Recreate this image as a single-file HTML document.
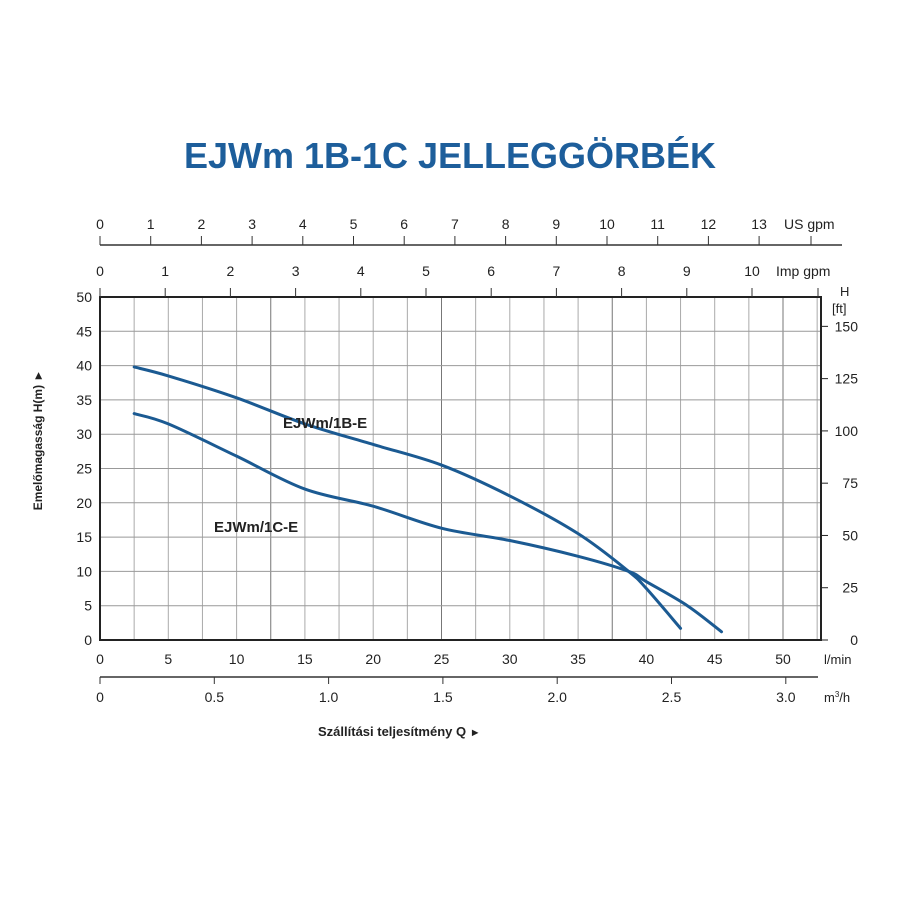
<!DOCTYPE html>
<html><head><meta charset="utf-8"><style>
body{margin:0;background:#fff;}
svg text{font-family:"Liberation Sans",Arial,sans-serif;fill:#222;}
</style></head><body>
<svg id="c" width="900" height="900" viewBox="0 0 900 900" xmlns="http://www.w3.org/2000/svg">
<text x="450" y="168" text-anchor="middle" font-size="36" font-weight="bold" style="fill:#1d5e9b">EJWm 1B-1C JELLEGGÖRBÉK</text>
<g id="g"></g>
<text transform="translate(42,440) rotate(-90)" text-anchor="middle" font-size="12" font-weight="bold">Emelőmagasság H(m)  ►</text>
<text x="318" y="736" font-size="13" font-weight="bold">Szállítási teljesítmény Q  <tspan font-size="11">  ►</tspan></text>
<text x="283" y="428" font-size="15" font-weight="bold">EJWm/1B-E</text>
<text x="214" y="532" font-size="15" font-weight="bold">EJWm/1C-E</text>
</svg>
<script>
const yTicks=[0,5,10,15,20,25,30,35,40,45,50];
const xTicks=[0,5,10,15,20,25,30,35,40,45,50];
const ftTicks=[0,25,50,75,100,125,150];
const m3Ticks=[0,0.5,1.0,1.5,2.0,2.5,3.0];
const usTicks=[0,1,2,3,4,5,6,7,8,9,10,11,12,13];
const impTicks=[0,1,2,3,4,5,6,7,8,9,10];
const q1B=[2.5,5,10,15,20,25,30,35,38.7,40,42.5];
const h1B=[39.8,38.5,35.3,31.5,28.5,25.5,21,15.5,10,7.5,1.7];
const q1C=[2.5,5,10,15,20,25,30,35,38.7,40,43,45.5];
const h1C=[33,31.5,26.8,22,19.5,16.3,14.5,12.2,10,8.5,5,1.2];
const X=q=>100+q*13.66, Y=h=>640-h*6.86;
const g=document.getElementById('g');
function el(t,a,p){const e=document.createElementNS('http://www.w3.org/2000/svg',t);for(const k in a)e.setAttribute(k,a[k]);(p||g).appendChild(e);return e;}
for(let q=2.5;q<52.6;q+=2.5){const l=el('line',{x1:X(q),x2:X(q),y1:297,y2:640,stroke:(q%12.5<0.1)?'#777':'#aaa','stroke-width':1});

}
yTicks.forEach(h=>{const l=el('line',{x1:100,x2:821,y1:Y(h),y2:Y(h),stroke:'#999','stroke-width':1});


const t=el('text',{x:92,y:Y(h)+5,'text-anchor':'end','font-size':14});t.textContent=h;

});
const box=el('rect',{x:100,y:297,width:721,height:343,fill:'none',stroke:'#222','stroke-width':2});


xTicks.forEach(q=>{const t=el('text',{x:X(q),y:664,'text-anchor':'middle','font-size':14});t.textContent=q;

});
let u=el('text',{x:824,y:664,'font-size':13});u.textContent='l/min';


ftTicks.forEach(f=>{const y=Y(f*0.3048);el('line',{x1:821,x2:828,y1:y,y2:y,stroke:'#222'});
const t=el('text',{x:858,y:y+5,'text-anchor':'end','font-size':14});t.textContent=f;

});
u=el('text',{x:840,y:296,'font-size':13});u.textContent='H';


u=el('text',{x:832,y:313,'font-size':13});u.textContent='[ft]';


el('line',{x1:100,x2:818,y1:677,y2:677,stroke:'#333','stroke-width':1.5});
m3Ticks.forEach(m=>{const x=100+m*228.6;el('line',{x1:x,x2:x,y1:677,y2:684,stroke:'#333'});
const t=el('text',{x:x,y:702,'text-anchor':'middle','font-size':14});t.textContent=m.toFixed(m===0?0:1);

});
u=el('text',{x:824,y:702,'font-size':13});u.innerHTML='m<tspan font-size="8" dy="-5">3</tspan><tspan dy="5">/h</tspan>';


el('line',{x1:100,x2:842,y1:245,y2:245,stroke:'#333','stroke-width':1.5});
usTicks.forEach(v=>{const x=100+v*50.7;el('line',{x1:x,x2:x,y1:236,y2:245,stroke:'#333'});
const t=el('text',{x:x,y:229,'text-anchor':'middle','font-size':14});t.textContent=v;

});
el('line',{x1:811,x2:811,y1:236,y2:245,stroke:'#333'});
u=el('text',{x:784,y:229,'font-size':14});u.textContent='US gpm';


impTicks.forEach(v=>{const x=100+v*65.2;el('line',{x1:x,x2:x,y1:288,y2:297,stroke:'#333'});
const t=el('text',{x:x,y:276,'text-anchor':'middle','font-size':14});t.textContent=v;

});
el('line',{x1:818,x2:818,y1:288,y2:297,stroke:'#333'});
u=el('text',{x:776,y:276,'font-size':14});u.textContent='Imp gpm';


function path(qs,hs){const p=qs.map((q,i)=>[X(q),Y(hs[i])]);let d='M'+p[0];
for(let i=0;i<p.length-1;i++){const a=p[i-1]||p[i],b=p[i],c=p[i+1],e=p[i+2]||c;
d+=` C${b[0]+(c[0]-a[0])/6},${b[1]+(c[1]-a[1])/6} ${c[0]-(e[0]-b[0])/6},${c[1]-(e[1]-b[1])/6} ${c[0]},${c[1]}`;}return d;}
const c1=el('path',{d:path(q1B,h1B),fill:'none',stroke:'#1b5a92','stroke-width':3,'stroke-linecap':'round'});


const c2=el('path',{d:path(q1C,h1C),fill:'none',stroke:'#1b5a92','stroke-width':3,'stroke-linecap':'round'});


</script>
</body></html>
